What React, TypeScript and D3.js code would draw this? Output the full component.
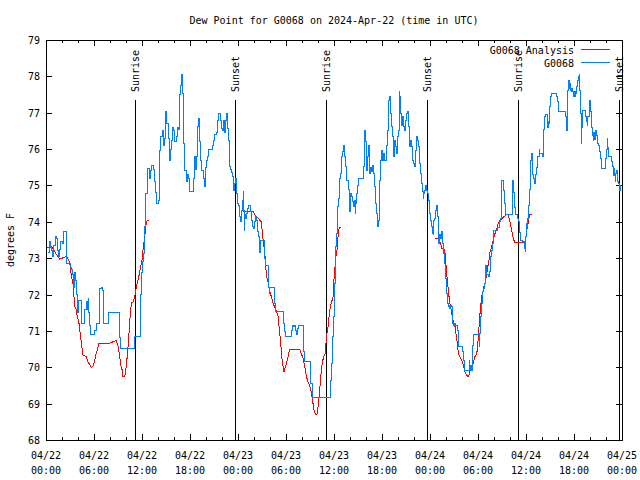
import React from 'react';
import * as d3 from 'd3';

const TITLE = 'Dew Point for G0068 on 2024-Apr-22 (time in UTC)';
const Y_LABEL = 'degrees F';
const yTickValues = [68, 69, 70, 71, 72, 73, 74, 75, 76, 77, 78, 79];
const xTickHours = [0, 6, 12, 18, 24, 30, 36, 42, 48, 54, 60, 66, 72];
const xTickDates = ['04/22', '04/22', '04/22', '04/22', '04/23', '04/23', '04/23', '04/23', '04/24', '04/24', '04/24', '04/24', '04/25'];
const xTickTimes = ['00:00', '06:00', '12:00', '18:00', '00:00', '06:00', '12:00', '18:00', '00:00', '06:00', '12:00', '18:00', '00:00'];
const sunHours = [11.17, 23.65, 35.0, 47.63, 59.05, 71.65];
const sunLabels = ['Sunrise', 'Sunset', 'Sunrise', 'Sunset', 'Sunrise', 'Sunset'];
const legendNames = ['G0068 Analysis', 'G0068'];

// observed station dew point (hours since 04/22 00:00 UTC, degF)
const observed: [number, number][] = [
  [0.2,73.15],[0.38,73.45],[0.54,73.3],[0.67,73.2],[0.79,73.05],[0.92,73.36],[1.17,73.6],[1.29,73.55],[1.38,73.2],[1.5,73.05],[1.63,73.25],[1.79,73.45],[2.0,73.4],[2.2,73.73],[2.58,72.86],[3.08,72.75],[3.21,72.7],[3.29,72.54],[3.42,72.2],[3.54,72.6],[3.67,72.4],[3.75,72.0],[3.88,71.6],[3.96,71.5],[4.04,71.85],[4.38,71.2],[4.83,71.6],[5.04,71.8],[5.17,71.6],[5.25,71.9],[5.33,71.5],[5.46,71.16],[5.54,70.89],[6.08,71.0],[6.29,71.2],[6.63,72.17],[6.88,72.2],[7.0,72.1],[7.13,71.2],[7.75,71.5],[9.13,70.83],[9.25,70.52],[11.04,70.84],[11.75,71.4],[11.84,72.0],[11.92,72.6],[12.02,72.9],[12.13,73.13],[12.25,73.5],[12.34,73.87],[12.38,74.51],[12.46,74.78],[12.63,75.06],[12.67,75.47],[12.88,75.2],[13.09,75.4],[13.17,75.56],[13.38,75.45],[13.5,75.1],[13.71,74.8],[13.8,74.5],[14.0,74.6],[14.13,75.97],[14.3,76.34],[14.5,76.5],[14.63,76.1],[14.75,76.3],[14.88,76.8],[14.96,77.03],[15.05,76.7],[15.3,76.3],[15.38,75.95],[15.46,75.7],[15.59,76.0],[15.67,76.25],[15.8,76.6],[15.88,76.5],[16.0,76.2],[16.3,76.35],[16.42,76.6],[16.55,76.55],[16.63,76.9],[16.71,77.49],[16.84,77.76],[16.92,78.04],[17.0,77.53],[17.13,76.15],[17.25,75.47],[17.34,75.4],[17.55,75.1],[17.63,75.3],[17.75,75.2],[17.88,75.0],[17.96,74.83],[18.38,75.2],[18.5,75.79],[18.63,75.75],[18.71,75.45],[18.8,75.79],[18.92,76.62],[19.0,76.85],[19.13,76.62],[19.21,76.2],[19.34,75.7],[19.46,75.4],[19.63,75.2],[19.75,74.97],[19.88,75.5],[20.0,75.7],[20.13,75.8],[20.25,75.99],[20.8,76.1],[20.96,76.25],[21.09,76.39],[21.3,76.45],[21.42,76.8],[21.55,76.98],[21.8,76.8],[21.92,76.57],[22.05,76.52],[22.13,76.8],[22.25,76.45],[22.38,76.7],[22.46,76.8],[22.59,76.98],[22.67,76.57],[22.8,76.25],[22.88,75.97],[22.96,75.52],[23.09,75.45],[23.21,75.35],[23.3,75.24],[23.46,74.87],[23.59,75.05],[23.71,75.2],[23.8,74.78],[23.92,74.5],[24.09,74.46],[24.21,74.14],[24.34,74.0],[24.42,74.32],[24.5,74.6],[24.63,74.83],[24.7,74.3],[24.75,73.77],[24.84,74.19],[24.96,74.1],[25.05,74.23],[25.17,74.37],[25.25,74.46],[25.59,74.28],[25.67,74.05],[25.8,73.87],[25.96,73.82],[26.09,74.0],[26.21,74.14],[26.3,74.05],[26.42,73.73],[26.55,73.59],[26.63,73.22],[26.71,73.17],[26.8,73.5],[27.25,73.36],[27.34,73.0],[27.46,72.8],[27.75,72.49],[27.84,72.2],[27.88,72.03],[27.96,72.2],[28.5,72.03],[28.59,71.76],[28.71,71.53],[29.63,71.21],[29.75,70.98],[29.96,70.84],[30.67,71.02],[30.8,71.16],[30.96,71.12],[31.09,71.16],[31.21,71.02],[31.3,70.89],[31.42,71.07],[31.5,71.16],[32.13,70.43],[32.34,70.15],[33.09,69.56],[33.25,69.17],[35.55,69.65],[35.67,70.1],[35.8,70.84],[35.88,71.4],[36.0,71.7],[36.09,72.31],[36.17,72.67],[36.21,73.32],[36.3,73.68],[36.38,74.05],[36.42,74.42],[36.5,74.65],[36.63,74.97],[36.71,75.2],[36.8,75.33],[36.88,75.47],[36.96,75.79],[37.05,75.93],[37.13,76.11],[37.25,76.0],[37.34,75.8],[37.46,75.52],[37.55,75.15],[37.75,74.9],[37.88,74.51],[37.96,74.28],[38.09,74.78],[38.17,74.7],[38.3,74.55],[38.38,74.42],[38.5,74.6],[38.63,74.23],[38.71,74.5],[38.8,74.78],[38.92,75.0],[39.04,75.2],[39.63,75.53],[39.75,76.0],[39.84,76.52],[39.96,76.2],[40.04,75.42],[40.17,75.8],[40.29,76.1],[40.38,75.6],[40.46,75.33],[40.54,75.5],[40.67,75.38],[40.79,75.55],[40.88,75.33],[41.0,75.13],[41.09,74.97],[41.21,74.51],[41.29,74.23],[41.38,73.87],[41.5,74.05],[41.63,74.42],[41.71,75.15],[41.84,75.7],[41.92,75.97],[42.04,75.7],[42.17,75.88],[42.34,75.7],[42.54,76.1],[42.67,76.52],[42.75,77.07],[42.84,77.35],[42.92,77.44],[43.0,77.26],[43.08,76.98],[43.17,76.62],[43.29,76.34],[43.38,76.07],[43.46,75.79],[43.59,76.25],[43.71,76.07],[43.79,75.88],[43.92,76.34],[44.04,76.52],[44.13,77.58],[44.21,77.44],[44.29,76.98],[44.42,76.66],[44.54,76.89],[44.63,76.62],[44.84,76.52],[44.96,76.8],[45.04,76.98],[45.17,77.03],[45.29,76.62],[45.38,76.25],[45.46,76.07],[45.54,76.25],[45.67,76.07],[45.79,75.7],[45.88,75.61],[46.0,75.56],[46.09,75.52],[46.21,75.97],[46.34,76.34],[46.42,76.25],[46.5,76.07],[46.63,75.7],[46.71,75.61],[46.84,75.33],[46.92,75.06],[47.04,74.83],[47.13,74.65],[47.21,74.78],[47.34,74.87],[47.46,75.0],[47.54,74.87],[47.67,74.78],[47.75,74.6],[47.88,74.42],[47.96,74.23],[48.09,74.05],[48.21,73.87],[48.29,73.68],[48.38,73.64],[48.46,74.05],[48.59,74.1],[48.71,74.32],[48.79,74.46],[48.88,74.14],[49.0,73.41],[49.13,73.5],[49.21,73.64],[49.29,73.55],[49.42,73.73],[49.54,73.41],[49.63,73.13],[49.75,72.86],[49.96,72.45],[50.04,72.03],[50.17,71.76],[50.29,71.67],[50.38,71.71],[50.46,71.62],[50.59,71.71],[50.71,71.67],[50.79,71.21],[50.88,71.16],[51.0,71.21],[51.13,71.16],[51.42,71.02],[51.54,70.57],[52.04,70.43],[52.17,70.2],[52.34,69.92],[52.88,70.2],[52.96,69.92],[53.04,70.06],[53.17,69.92],[53.29,70.61],[53.42,70.89],[54.13,70.57],[54.21,70.93],[54.29,71.39],[54.42,71.76],[54.54,72.08],[54.63,72.17],[54.75,72.22],[54.84,72.31],[54.92,72.81],[55.04,72.54],[55.25,72.49],[55.38,72.63],[55.5,72.9],[55.59,73.04],[55.67,73.22],[55.75,73.41],[55.88,73.77],[56.38,73.85],[56.63,74.0],[56.84,74.1],[56.92,75.15],[57.21,74.87],[57.29,74.51],[57.38,74.19],[58.25,74.87],[58.34,75.15],[58.42,74.8],[58.5,74.4],[58.63,74.19],[58.92,74.1],[59.04,74.0],[59.13,73.87],[59.21,73.7],[59.29,73.5],[59.5,73.45],[59.79,73.28],[59.88,73.18],[59.96,73.6],[60.04,73.95],[60.13,73.85],[60.21,74.1],[60.29,74.45],[60.38,74.74],[60.46,74.9],[60.54,75.3],[60.58,75.7],[60.67,75.88],[60.75,75.6],[60.83,75.3],[60.96,75.2],[61.09,75.06],[61.21,75.3],[61.29,75.5],[61.38,75.7],[61.46,75.79],[61.63,76.0],[61.71,75.88],[62.04,75.79],[62.13,76.16],[62.21,76.55],[62.29,76.89],[62.46,76.95],[62.63,76.7],[62.71,76.6],[62.79,76.75],[62.88,76.7],[62.96,77.17],[63.04,77.45],[63.13,77.53],[63.79,77.45],[63.92,77.3],[64.0,77.12],[64.08,77.03],[64.96,76.9],[65.04,76.75],[65.08,76.52],[65.13,76.85],[65.21,77.62],[65.29,77.9],[65.38,77.67],[65.46,77.8],[65.54,77.62],[65.63,77.58],[65.71,77.67],[65.79,77.58],[65.88,77.53],[65.96,77.44],[66.04,77.58],[66.13,77.44],[66.21,77.53],[66.29,77.72],[66.38,77.8],[66.46,77.9],[66.54,78.0],[66.63,78.04],[66.71,77.62],[66.79,76.98],[66.88,76.16],[66.96,76.6],[67.04,77.07],[67.38,76.9],[67.54,76.75],[67.63,76.65],[67.71,76.9],[67.88,77.0],[67.96,77.35],[68.04,77.03],[68.13,76.7],[68.21,76.6],[68.29,76.38],[68.38,76.25],[68.46,76.45],[68.54,76.27],[68.71,76.52],[68.79,76.38],[68.88,76.25],[68.96,76.16],[69.04,76.1],[69.13,76.0],[69.21,75.93],[69.29,75.75],[69.38,75.47],[69.88,75.6],[69.96,75.75],[70.04,76.0],[70.13,76.3],[70.21,76.05],[70.29,75.79],[70.63,75.7],[70.71,75.65],[70.79,75.52],[70.88,75.28],[70.96,75.47],[71.04,75.28],[71.13,75.1],[71.21,75.33],[71.29,75.42],[71.38,75.28],[71.46,75.1],[71.54,75.06],[71.63,74.87],[71.8,75.0]
];

// analysis runs (hours, degF)
const analysisDay1: [number, number][] = [
  [0.15,73.3],[0.67,73.32],[1.71,72.97],[2.55,73.05],[2.96,72.9],[3.17,72.5],[3.38,72.3],[3.5,71.94],[3.58,71.67],[3.75,71.6],[3.92,71.4],[4.13,71.2],[4.3,70.89],[4.42,70.66],[4.63,70.34],[5.0,70.3],[5.25,70.15],[5.67,70.0],[5.88,70.03],[6.09,70.2],[6.3,70.4],[6.5,70.55],[6.63,70.66],[7.96,70.66],[8.38,70.7],[8.8,70.74],[9.0,70.58],[9.21,70.3],[9.34,70.07],[9.55,69.9],[9.63,69.74],[9.84,69.74],[9.96,69.9],[10.13,70.25],[10.25,70.55],[10.38,70.95],[10.46,71.26],[10.67,71.76],[10.88,71.8],[11.08,71.93],[11.21,72.1],[11.38,72.3],[11.59,72.48],[12.0,72.95],[12.17,73.3],[12.34,73.58],[12.46,73.87],[12.63,74.03],[12.88,74.03]
];
const analysisDay2: [number, number][] = [
  [24.63,74.28],[25.88,74.28],[26.09,74.2],[26.5,74.1],[26.92,74.0],[27.05,73.68],[27.25,73.32],[27.38,73.05],[27.46,72.8],[27.55,72.53],[27.8,72.3],[27.96,72.08],[28.17,71.95],[28.38,71.76],[28.71,71.6],[29.0,71.4],[29.13,71.12],[29.34,70.66],[29.46,70.3],[29.63,70.02],[29.75,69.88],[30.05,70.1],[30.46,70.49],[31.71,70.49],[32.13,70.25],[32.34,70.02],[32.55,69.75],[32.75,69.6],[32.96,69.5],[33.09,69.4],[33.25,69.19],[33.38,69.0],[33.5,68.82],[33.67,68.71],[33.88,68.71],[34.0,68.9],[34.13,69.19],[34.21,69.37],[34.42,69.92],[34.55,70.14],[34.71,70.29],[34.92,70.38],[35.05,70.84],[35.25,71.1],[35.38,71.39],[35.55,71.67],[35.71,71.8],[35.88,71.94],[35.96,72.31],[36.09,72.67],[36.21,73.0],[36.38,73.22],[36.5,73.59],[36.63,73.82],[36.92,73.86]
];
const analysisDay3: [number, number][] = [
  [48.59,73.55],[49.0,73.55],[49.21,73.46],[49.34,73.41],[49.46,73.27],[49.84,73.24],[49.96,72.95],[50.04,72.67],[50.17,72.4],[50.29,72.12],[50.38,71.94],[50.46,71.76],[50.59,71.67],[50.71,71.48],[50.88,71.3],[51.0,71.21],[51.13,71.12],[51.21,70.99],[51.29,70.85],[51.42,70.66],[51.54,70.39],[51.71,70.3],[51.92,70.2],[52.04,70.16],[52.21,70.02],[52.34,69.88],[52.54,69.79],[52.75,69.75],[52.88,69.79],[52.96,69.88],[53.17,69.97],[53.38,70.09],[53.5,70.2],[53.63,70.3],[53.79,70.34],[53.92,70.48],[54.04,70.85],[54.13,71.12],[54.21,71.39],[54.34,71.67],[54.46,71.94],[54.63,72.08],[54.75,72.22],[54.88,72.31],[55.04,72.49],[55.17,72.67],[55.29,72.86],[55.38,72.95],[55.46,73.13],[55.59,73.22],[55.71,73.32],[55.88,73.46],[56.0,73.59],[56.13,73.68],[56.29,73.77],[56.46,73.91],[56.63,74.0],[56.79,74.05],[56.96,74.08],[57.13,74.12],[57.34,74.16],[57.54,74.19],[57.75,74.21],[57.83,74.14],[57.96,74.05],[58.08,73.91],[58.21,73.77],[58.33,73.64],[58.46,73.5],[58.63,73.43],[59.83,73.43],[59.96,73.5],[60.13,73.8],[60.25,73.95],[60.38,74.1],[60.46,74.19],[60.71,74.19]
];

const FONT = '"DejaVu Sans Mono", "Liberation Mono", monospace';
const RED = '#ff0000';
const BLUE = '#0080ff';

export default function App() {
  const W = 640, H = 480;
  const L = 46, R = 622, T = 40, B = 440;
  const x = d3.scaleLinear().domain([0, 72]).range([L, R]);
  const y = d3.scaleLinear().domain([68, 79]).range([B, T]);
  const obsLine = d3.line<[number, number]>().x(d => x(d[0])).y(d => y(d[1])).curve(d3.curveStepAfter);
  const anaLine = d3.line<[number, number]>().x(d => x(d[0])).y(d => y(d[1]));
  const minorHours = d3.range(0, 73, 2).filter(h => h % 6 !== 0);
  const px = (v: number) => Math.round(v) + 0.5;

  return (
    <svg width={W} height={H} style={{ position: 'absolute', left: 0, top: 0, background: '#fff' }} fontFamily={FONT} fontSize={10}>
      <rect x={0} y={0} width={W} height={H} fill="#fff" />
      <text x={(L + R) / 2} y={24} textAnchor="middle">{TITLE}</text>
      <text transform={`translate(14,${(T + B) / 2}) rotate(-90)`} textAnchor="middle">{Y_LABEL}</text>

      {/* y ticks */}
      {yTickValues.map(v => (
        <g key={'y' + v}>
          <line x1={L} x2={L + 6} y1={px(y(v))} y2={px(y(v))} stroke="#000" shapeRendering="crispEdges" />
          <line x1={R - 6} x2={R} y1={px(y(v))} y2={px(y(v))} stroke="#000" shapeRendering="crispEdges" />
          <text x={40} y={y(v) + 4} textAnchor="end">{v}</text>
        </g>
      ))}
      {/* x ticks */}
      {xTickHours.map((h, i) => (
        <g key={'x' + h}>
          <line x1={px(x(h))} x2={px(x(h))} y1={B} y2={B - 6} stroke="#000" shapeRendering="crispEdges" />
          <line x1={px(x(h))} x2={px(x(h))} y1={T} y2={T + 6} stroke="#000" shapeRendering="crispEdges" />
          <text x={x(h)} y={459} textAnchor="middle">{xTickDates[i]}</text>
          <text x={x(h)} y={474} textAnchor="middle">{xTickTimes[i]}</text>
        </g>
      ))}
      {minorHours.map(h => (
        <g key={'m' + h}>
          <line x1={px(x(h))} x2={px(x(h))} y1={B} y2={B - 3} stroke="#000" shapeRendering="crispEdges" />
          <line x1={px(x(h))} x2={px(x(h))} y1={T} y2={T + 3} stroke="#000" shapeRendering="crispEdges" />
        </g>
      ))}

      {/* sunrise / sunset */}
      {sunHours.map((h, i) => (
        <g key={'s' + i}>
          <line x1={px(x(h))} x2={px(x(h))} y1={100} y2={B} stroke="#000" shapeRendering="crispEdges" />
          <text transform={`translate(${x(h) + 4},92) rotate(-90)`} textAnchor="start">{sunLabels[i]}</text>
        </g>
      ))}

      {/* data */}
      {[analysisDay1, analysisDay2, analysisDay3].map((seg, i) => (
        <path key={'a' + i} d={anaLine(seg) || ''} fill="none" stroke={RED} strokeWidth={1} shapeRendering="crispEdges" />
      ))}
      <path d={obsLine(observed) || ''} fill="none" stroke={BLUE} strokeWidth={1} shapeRendering="crispEdges" />

      {/* legend */}
      <text x={574} y={54} textAnchor="end">{legendNames[0]}</text>
      <line x1={581} x2={610} y1={49.5} y2={49.5} stroke={RED} shapeRendering="crispEdges" />
      <text x={574} y={67} textAnchor="end">{legendNames[1]}</text>
      <line x1={581} x2={610} y1={62.5} y2={62.5} stroke={BLUE} shapeRendering="crispEdges" />

      {/* frame */}
      <rect x={L + 0.5} y={T + 0.5} width={R - L} height={B - T} fill="none" stroke="#000" shapeRendering="crispEdges" />
    </svg>
  );
}
